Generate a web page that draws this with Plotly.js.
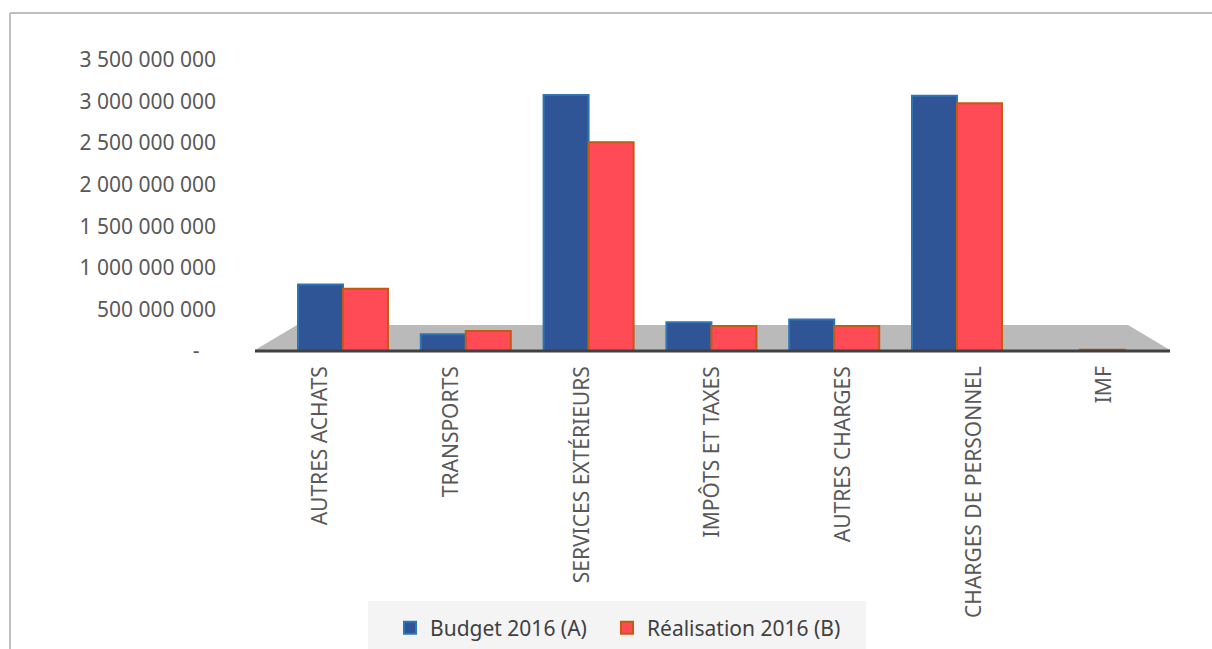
<!DOCTYPE html>
<html>
<head>
<meta charset="utf-8">
<script src="https://cdn.plot.ly/plotly-3.0.1.min.js"></script>
<style>html,body{margin:0;padding:0;background:#fff;}#chart{width:1212px;height:649px;}</style>
</head>
<body>
<div id="chart"></div>
<script>
// ---- data ----
const categories = ["AUTRES ACHATS", "TRANSPORTS", "SERVICES EXTÉRIEURS", "IMPÔTS ET TAXES", "AUTRES CHARGES", "CHARGES DE PERSONNEL", "IMF"];
const budget2016 = [800000000, 200000000, 3080000000, 345000000, 380000000, 3070000000, 0];
const realisation2016 = [750000000, 240000000, 2510000000, 300000000, 300000000, 2980000000, 15000000];
const seriesNames = ["Budget 2016 (A)", "Réalisation 2016 (B)"];
const yTickVals = [0, 500000000, 1000000000, 1500000000, 2000000000, 2500000000, 3000000000, 3500000000];
const yTickText = ["-\u00a0\u00a0\u00a0", "500 000 000", "1 000 000 000", "1 500 000 000", "2 000 000 000", "2 500 000 000", "3 000 000 000", "3 500 000 000"];

const FONT = "Noto Sans, Open Sans, sans-serif";
const W = 952, H = 291, L = 220, B0 = 351; // plot area size, left edge, bottom edge (px)
const px = v => (v - L) / W;
const py = v => (B0 - v) / H;

const traces = [
  {
    type: "bar", name: seriesNames[0], x: categories, y: budget2016, legend: "legend",
    marker: {color: "#2F5597", line: {color: "#2E75B6", width: 2}},
    hoverinfo: "x+y"
  },
  {
    type: "bar", name: seriesNames[1], x: categories, y: realisation2016, legend: "legend2",
    marker: {color: "#FF4B55", line: {color: "#C55A11", width: 2}},
    hoverinfo: "x+y"
  },
  {
    // carrier for the category labels on the floor axis
    type: "scatter", x: categories, y: categories.map(() => 0), xaxis: "x2", yaxis: "y",
    mode: "markers", marker: {opacity: 0}, showlegend: false, hoverinfo: "skip"
  }
];

const legendStyle = (xp) => ({
  orientation: "h", x: px(xp), xanchor: "left", y: py(628), yanchor: "middle",
  bgcolor: "rgba(0,0,0,0)", font: {family: FONT, size: 21, color: "#404040"},
  itemclick: false
});

const layout = {
  width: 1212, height: 649,
  margin: {l: L, r: 1212 - L - W, t: B0 - H, b: 649 - B0, autoexpand: false},
  paper_bgcolor: "#ffffff", plot_bgcolor: "rgba(0,0,0,0)",
  separators: ", ",
  barmode: "group", bargap: 0.267, bargroupgap: 0,
  font: {family: FONT, size: 21, color: "#595959"},
  showlegend: true,
  legend: legendStyle(390),
  legend2: legendStyle(607),
  xaxis: {
    type: "category", domain: [px(281.6), px(1141.2)], range: [-0.5, 6.5],
    showticklabels: false, showgrid: false, zeroline: false, showline: false, ticks: "",
    fixedrange: true
  },
  xaxis2: {
    type: "category", domain: [px(255), px(1170)], range: [-0.5, 6.5], anchor: "y",
    tickangle: -90, showgrid: false, zeroline: false, showline: false, ticks: "",
    ticklabelstandoff: 10, side: "bottom",
    tickfont: {family: FONT, size: 21, color: "#595959"}, fixedrange: true
  },
  yaxis: {
    range: [0, 3500000000], tickvals: yTickVals, ticktext: yTickText,
    anchor: "free", position: 0, showgrid: false, zeroline: false, showline: false, ticks: "",
    ticklabelstandoff: 4,
    tickfont: {family: FONT, size: 21, color: "#595959"}, fixedrange: true
  },
  shapes: [
    // outer frame
    {type: "line", xref: "paper", yref: "paper", layer: "below",
     x0: px(10), x1: px(1212), y0: py(13), y1: py(13),
     line: {color: "#BFBFBF", width: 2}},
    {type: "line", xref: "paper", yref: "paper", layer: "below",
     x0: px(10), x1: px(10), y0: py(13), y1: py(660),
     line: {color: "#BFBFBF", width: 2}},
    // floor
    {type: "path", xref: "paper", yref: "paper", layer: "below",
     path: "M " + px(255) + " " + py(350) + " L " + px(297) + " " + py(325) + " L " + px(1128) + " " + py(325) + " L " + px(1170) + " " + py(350) + " Z",
     fillcolor: "#BABABA", line: {width: 0}},
    {type: "line", xref: "paper", yref: "paper", layer: "above",
     x0: px(255), x1: px(1170), y0: py(351), y1: py(351),
     line: {color: "#404040", width: 3}},
    // legend box
    {type: "rect", xref: "paper", yref: "paper", layer: "below",
     x0: px(368), x1: px(866), y0: py(601), y1: py(652),
     fillcolor: "#F4F4F4", line: {width: 0}}
  ]
};

Plotly.newPlot("chart", traces, layout, {displayModeBar: false, staticPlot: true});
</script>
</body>
</html>
